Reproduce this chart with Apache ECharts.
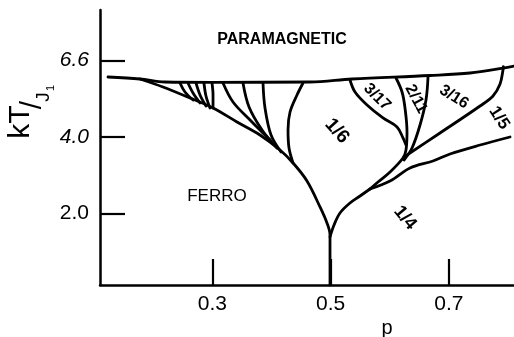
<!DOCTYPE html>
<html>
<head>
<meta charset="utf-8">
<script src="https://cdn.jsdelivr.net/npm/echarts@6/dist/echarts.min.js"></script>
<style>
html,body{margin:0;padding:0;background:#fff;}
#chart{width:514px;height:337px;}
</style>
</head>
<body>
<div id="chart"></div>
<script>
// ---- axis ticks ----
const pTicks = [0.3, 0.5, 0.7];
const tTicks = [2, 4, 6];
const tTickLabels = ['2.0', '4.0', '6.6'];

// ---- phase boundaries (p, kT/J1) ----
const paraBoundary = [[0.1235,5.568],[0.1776,5.516],[0.2199,5.438],[0.30,5.430],[0.4651,5.438],[0.5361,5.516],[0.668,5.608],[0.7356,5.673],[0.7914,5.80],[0.81,5.856]];
const ferroBoundary = [[0.1776,5.516],[0.2165,5.307],[0.2622,5.019],[0.3011,4.758],[0.3417,4.392],[0.3805,4.052],[0.4144,3.660],[0.4364,3.320],[0.460,2.849],[0.482,2.170],[0.4938,1.751],[0.4989,1.438],[0.4989,1.045],[0.4989,0.13]];
const sixthLeft = [[0.4533,5.412],[0.4431,5.098],[0.4313,4.653],[0.4279,4.183],[0.4296,3.712],[0.4364,3.320]];
const fan1 = [[0.2453,5.412],[0.2537,5.176],[0.2673,4.967]];
const fan2 = [[0.2588,5.412],[0.2673,5.150],[0.2791,4.889]];
const fan3 = [[0.2723,5.412],[0.2791,5.098],[0.2892,4.810]];
const fan4 = [[0.2858,5.412],[0.2892,5.072],[0.2960,4.758]];
const fan5 = [[0.2994,5.412],[0.3011,5.098],[0.3011,4.758]];
const fan6 = [[0.3180,5.412],[0.3349,4.915],[0.3637,4.444],[0.3975,3.921]];
const fan7 = [[0.3518,5.412],[0.3620,4.784],[0.3840,4.183],[0.4093,3.712]];
const fan8 = [[0.3856,5.412],[0.3890,4.758],[0.3992,4.052],[0.4161,3.608]];
const cut317 = [[0.5327,5.490],[0.5412,5.176],[0.5615,4.836],[0.5885,4.497],[0.6122,4.261],[0.6223,3.974],[0.6274,3.790]];
const cut211Left = [[0.6105,5.542],[0.6207,5.176],[0.6257,4.758],[0.6291,4.130],[0.6274,3.660],[0.6223,3.451],[0.6004,3.085],[0.5801,2.823],[0.5665,2.640]];
const cut211Right = [[0.6646,5.568],[0.6612,4.967],[0.6511,4.313],[0.6376,3.712],[0.6240,3.398]];
const cut316 = [[0.6240,3.477],[0.6849,4.104],[0.7526,4.810],[0.7745,5.072],[0.7864,5.385],[0.7914,5.751],[0.7920,5.840]];
const quarterTop = [[0.5665,2.640],[0.6004,2.849],[0.6342,3.189],[0.6731,3.372],[0.7018,3.555],[0.7526,3.790],[0.8033,4.000]];
const quarterStem = [[0.4989,1.386],[0.5057,1.699],[0.5158,2.013],[0.5327,2.274],[0.5497,2.457],[0.5665,2.640]];

// ---- region labels ----
const regionNames = ['PARAMAGNETIC','FERRO','1/6','1/4','3/17','2/11','3/16','1/5'];
const regionAnchors = [[0.4177,6.536],[0.3078,2.457],[0.5107,4.157],[0.6257,1.882],[0.5784,5.045],[0.6443,4.993],[0.7086,5.045],[0.7847,4.497]];

const boundaries = [paraBoundary, ferroBoundary, sixthLeft, fan1, fan2, fan3, fan4, fan5, fan6, fan7, fan8,
  cut317, cut211Left, cut211Right, cut316, quarterTop, quarterStem];

const labelStyles = [
  {fontSize:16, fontWeight:'bold', rotate:0},
  {fontSize:17, fontWeight:'normal', rotate:0},
  {fontSize:19, fontWeight:'bold', rotate:-48},
  {fontSize:18, fontWeight:'bold', rotate:-50},
  {fontSize:16, fontWeight:'bold', rotate:-45},
  {fontSize:16, fontWeight:'bold', rotate:-62},
  {fontSize:16, fontWeight:'bold', rotate:-32},
  {fontSize:17, fontWeight:'bold', rotate:-57}
];

const chart = echarts.init(document.getElementById('chart'), null, {renderer:'canvas'});
const FONT = 'Liberation Sans, Arial, sans-serif';

const series = boundaries.map(d => ({
  type:'line', data:d, showSymbol:false, symbol:'none', smooth:0.35,
  lineStyle:{color:'#000', width:2.8, cap:'round', join:'round'}, silent:true, z:3
}));

series.push({
  type:'scatter', symbolSize:0, silent:true, z:5,
  itemStyle:{color:'#000', opacity:1},
  data: regionNames.map((n,i) => ({
    name:n, value:regionAnchors[i],
    itemStyle:{opacity:1},
    label:{show:true, position:'inside', formatter:n, color:'#000', opacity:1, fontFamily:FONT,
      textBorderWidth:0, textBorderColor:'transparent', textShadowBlur:0,
      fontSize:labelStyles[i].fontSize, fontWeight:labelStyles[i].fontWeight, rotate:labelStyles[i].rotate,
      align:'center', verticalAlign:'middle'}
  }))
});

const option = {
  animation:false,
  backgroundColor:'#fff',
  grid:{left:100, top:10, width:414, height:275, containLabel:false},
  xAxis:{
    type:'value', min:0.11, max:0.81,
    axisLine:{onZero:false, lineStyle:{color:'#000', width:2.5}},
    axisTick:{inside:true, length:26, customValues:pTicks, lineStyle:{color:'#000', width:2.2}},
    axisLabel:{customValues:pTicks, formatter:v => v.toFixed(1), fontSize:21, color:'#000', margin:9, fontFamily:FONT},
    splitLine:{show:false}
  },
  yAxis:{
    type:'value', min:0.13, max:7.32,
    axisLine:{onZero:false, lineStyle:{color:'#000', width:2.5}},
    axisTick:{inside:true, length:25, customValues:tTicks, lineStyle:{color:'#000', width:2.2}},
    axisLabel:{customValues:tTicks, margin:11, fontFamily:FONT, color:'#000',
      formatter:v => {const s = tTickLabels[tTicks.indexOf(Math.round(v))]; return v > 3 ? '{i|'+s+'}' : '{n|'+s+'}';},
      rich:{i:{fontSize:21, fontStyle:'italic', fontFamily:FONT, color:'#000'}, n:{fontSize:21, fontFamily:FONT, color:'#000'}}
    },
    splitLine:{show:false}
  },
  graphic:[
    {type:'text', x:21, y:122, rotation:Math.PI/2, style:{text:'kT', font:'30px Liberation Sans', fill:'#000', align:'center', verticalAlign:'middle'}},
    {type:'text', x:33, y:105, rotation:Math.PI/2, style:{text:'/', font:'30px Liberation Sans', fill:'#000', align:'center', verticalAlign:'middle'}},
    {type:'text', x:44, y:97, rotation:Math.PI/2, style:{text:'J', font:'19px Liberation Sans', fill:'#000', align:'center', verticalAlign:'middle'}},
    {type:'text', x:51, y:88, rotation:Math.PI/2, style:{text:'1', font:'11px Liberation Sans', fill:'#000', align:'center', verticalAlign:'middle'}},
    {type:'text', x:387, y:328, style:{text:'p', font:'20px Liberation Sans', fill:'#000', align:'center', verticalAlign:'middle'}}
  ],
  series: series
};
chart.setOption(option);
</script>
</body>
</html>
